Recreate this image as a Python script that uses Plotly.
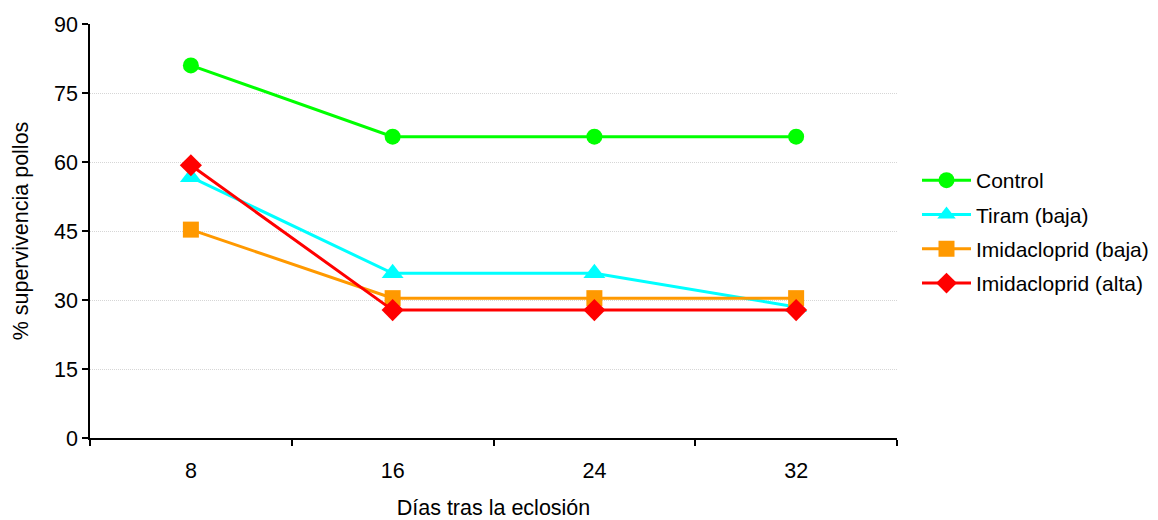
import plotly.graph_objects as go

dias = ["8", "16", "24", "32"]
control = [81.0, 65.5, 65.5, 65.5]
tiram_baja = [56.7, 35.8, 35.8, 28.5]
imidacloprid_baja = [45.3, 30.4, 30.4, 30.4]
imidacloprid_alta = [59.3, 27.8, 27.8, 27.8]

y_ticks = [0, 15, 30, 45, 60, 75, 90]

series = [
    ("Control", control, "#00ff00", "circle", 16),
    ("Tiram (baja)", tiram_baja, "#00ffff", "triangle-up", 19),
    ("Imidacloprid (baja)", imidacloprid_baja, "#ff9900", "square", 16),
    ("Imidacloprid (alta)", imidacloprid_alta, "#ff0000", "diamond", 17),
]

FONT = "Liberation Sans, Arial, sans-serif"

fig = go.Figure()
for i, (name, vals, color, symbol, msize) in enumerate(series):
    fig.add_trace(go.Scatter(
        x=dias, y=vals, name=name, mode="lines+markers",
        legendgroup=f"g{i}",
        line=dict(color=color, width=3),
        marker=dict(color=color, symbol=symbol, size=msize, line=dict(width=0)),
    ))

fig.update_layout(
    width=1158, height=520,
    margin=dict(l=90, r=261, t=24, b=82),
    paper_bgcolor="white", plot_bgcolor="white",
    font=dict(family=FONT, size=21.5, color="black"),
    showlegend=True,
    legend=dict(xref="container", yref="container",
                x=917 / 1158, y=1 - 232 / 520, xanchor="left", yanchor="middle",
                font=dict(size=21), bgcolor="rgba(0,0,0,0)",
                tracegroupgap=4, itemwidth=49, borderwidth=0),
)

fig.update_xaxes(
    type="category", range=[-0.5, 3.5], automargin=False,
    tickson="boundaries", ticks="outside", ticklen=6, tickwidth=1.5,
    tickcolor="black", showline=True, linecolor="black", linewidth=1.5,
    showgrid=False, zeroline=False, ticklabelstandoff=12,
    title=dict(text="Días tras la eclosión", standoff=23, font=dict(size=21.5)),
)

fig.update_yaxes(
    range=[0, 90], tickvals=y_ticks, ticks="outside", ticklen=6, automargin=False,
    tickwidth=1.5, tickcolor="black", showline=True, linecolor="black",
    linewidth=1.5, showgrid=True, gridcolor="#d6d6d6", gridwidth=1,
    griddash="1px,1px", zeroline=False,
    title=dict(text="% supervivencia pollos", standoff=20, font=dict(size=21.5)),
)

fig.write_html("out.html")
